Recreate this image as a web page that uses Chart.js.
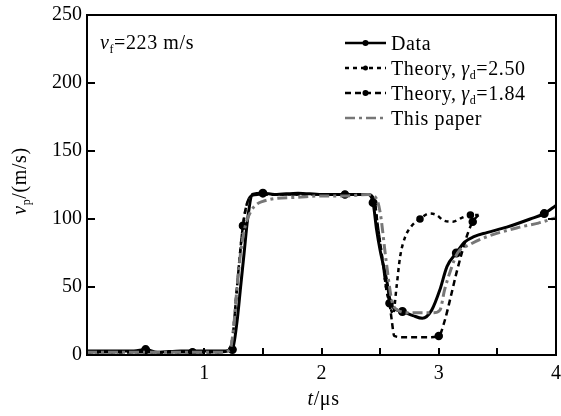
<!DOCTYPE html>
<html><head><meta charset="utf-8">
<script src="https://cdn.jsdelivr.net/npm/chart.js@4"></script>
<style>html,body{margin:0;padding:0;background:#fff}#wrap{width:561px;height:416px;position:relative}</style>
</head><body><div id="wrap"><canvas id="c" width="561" height="416"></canvas></div>
<script>
// ---- data ----
const dataT = [0, 0.2, 0.4, 0.5, 0.6, 0.8, 1.0, 1.1, 1.18, 1.24, 1.28, 1.31, 1.34, 1.37, 1.41, 1.5, 1.6, 1.8, 2.0, 2.2, 2.4, 2.44, 2.47, 2.5, 2.56, 2.58, 2.61, 2.69, 2.78, 2.86, 2.94, 3.01, 3.07, 3.15, 3.22, 3.3, 3.41, 3.58, 3.78, 3.9, 4.0];
const dataV = [3, 3, 3, 4, 2, 3, 3, 3, 3, 4, 25, 50, 75, 100, 118, 119, 118, 119, 118, 118, 118, 112, 92, 77, 53, 42, 35, 32, 29, 27, 33, 48, 65, 75, 83, 87, 90, 94, 100, 104, 110];

const theoryAT = [0, 0.3, 0.6, 0.9, 1.1, 1.2, 1.24, 1.27, 1.3, 1.33, 1.36, 1.4, 1.5, 1.7, 2.0, 2.2, 2.4, 2.45, 2.48, 2.52, 2.55, 2.58, 2.61, 2.64, 2.67, 2.71, 2.77, 2.84, 2.92, 2.98, 3.04, 3.12, 3.2, 3.27, 3.34];
const theoryAV = [2, 2, 2, 2, 2, 3, 12, 40, 70, 95, 110, 117, 118, 118, 118, 118, 118, 114, 95, 70, 50, 38, 30, 50, 72, 86, 95, 100, 104, 103, 99, 98, 101, 103, 103];

const theoryBT = [0, 0.3, 0.6, 0.9, 1.1, 1.2, 1.24, 1.27, 1.3, 1.33, 1.36, 1.4, 1.5, 1.7, 2.0, 2.2, 2.4, 2.45, 2.48, 2.52, 2.55, 2.58, 2.6, 2.62, 2.7, 2.8, 2.9, 3.0, 3.05, 3.1, 3.15, 3.2, 3.25, 3.29, 3.34];
const theoryBV = [2, 2, 2, 2, 2, 3, 12, 40, 70, 95, 110, 117, 118, 118, 118, 118, 118, 114, 95, 70, 50, 38, 25, 14, 13, 13, 13, 14, 25, 42, 60, 76, 90, 98, 103];

const paperT = [0, 0.5, 1.0, 1.15, 1.22, 1.25, 1.28, 1.31, 1.35, 1.4, 1.45, 1.5, 1.6, 1.8, 2.0, 2.2, 2.4, 2.46, 2.5, 2.55, 2.6, 2.65, 2.75, 2.85, 2.95, 3.01, 3.05, 3.1, 3.16, 3.26, 3.41, 3.69, 3.85, 4.0];
const paperV = [2, 2, 2, 2, 4, 20, 50, 75, 95, 106, 111, 113, 115, 116, 117, 117, 118, 116, 105, 70, 40, 33, 31, 31, 31, 33, 48, 62, 75, 81, 87, 94, 97, 101];

const seriesNames = ['Data', 'Theory, γ_d=2.50', 'Theory, γ_d=1.84', 'This paper'];
const xTickLabels = ['1', '2', '3', '4'];
const yTickValues = [0, 50, 100, 150, 200, 250];
const xMinorTicks = [0.5, 1, 1.5, 2, 2.5, 3, 3.5];
const yInnerTicks = [50, 100, 150, 200];
const annotationText = ['v', 'f', '=223 m/s'];
const xTitle = ['t', '/μs'];
const yTitle = ['v', 'p', '/(m/s)'];

const pts = (T, V) => T.map((t, i) => ({x: t, y: V[i]}));
const SERIF = '"Liberation Serif", "DejaVu Serif", serif';
const FS = 20;

const styles = [
  {color: '#000', width: 3, dash: [], marker: 3},
  {color: '#000', width: 2.5, dash: [4, 4], marker: 2.5},
  {color: '#000', width: 2.5, dash: [6, 4], marker: 3},
  {color: '#777', width: 3, dash: [10, 4, 3, 4], marker: 0}
];
const seriesPts = [pts(dataT, dataV), pts(theoryAT, theoryAV), pts(theoryBT, theoryBV), pts(paperT, paperV)];

const datasets = seriesPts.map((p, i) => ({
  label: seriesNames[i],
  data: p,
  borderColor: styles[i].color,
  backgroundColor: styles[i].color,
  borderWidth: styles[i].width,
  borderDash: styles[i].dash,
  cubicInterpolationMode: 'monotone',
  pointRadius: (ctx) => (styles[i].marker && ctx.dataIndex % 6 === 3) ? styles[i].marker : 0,
  pointHoverRadius: 0,
  order: 3 - i
}));

function drawRich(ctx, parts, x, y, size, italicFirst) {
  ctx.font = (italicFirst ? 'italic ' : '') + size + 'px ' + SERIF;
  ctx.fillText(parts[0], x, y); x += ctx.measureText(parts[0]).width;
  if (parts.length > 1) {
    ctx.font = Math.round(size * 0.6) + 'px ' + SERIF;
    ctx.fillText(parts[1], x, y + size * 0.22); x += ctx.measureText(parts[1]).width;
  }
  if (parts.length > 2) {
    ctx.font = size + 'px ' + SERIF;
    ctx.fillText(parts[2], x, y); x += ctx.measureText(parts[2]).width;
  }
  return x;
}

const decor = {
  id: 'decor',
  afterDraw(chart) {
    const ctx = chart.ctx, xs = chart.scales.x, ys = chart.scales.y, a = chart.chartArea;
    ctx.save();
    ctx.strokeStyle = '#000'; ctx.lineWidth = 2; ctx.setLineDash([]);
    ctx.strokeRect(a.left, a.top, a.right - a.left, a.bottom - a.top);
    ctx.beginPath();
    xMinorTicks.forEach(v => { const px = Math.round(xs.getPixelForValue(v)); ctx.moveTo(px, a.bottom); ctx.lineTo(px, a.bottom - 7); });
    yInnerTicks.forEach(v => { const py = Math.round(ys.getPixelForValue(v)); ctx.moveTo(a.left, py); ctx.lineTo(a.left + 8, py); ctx.moveTo(a.right, py); ctx.lineTo(a.right - 8, py); });
    ctx.stroke();

    ctx.fillStyle = '#000'; ctx.textBaseline = 'alphabetic'; ctx.textAlign = 'left';
    ctx.letterSpacing = '0.6px';
    drawRich(ctx, annotationText, 100, 49, FS, true);
    // legend
    const lx0 = 345, lx1 = 386, tx = 391;
    seriesNames.forEach((name, i) => {
      const cy = 43 + i * 25;
      const s = styles[i];
      ctx.strokeStyle = s.color; ctx.lineWidth = Math.min(s.width, 2.5); ctx.setLineDash(s.dash);
      ctx.beginPath(); ctx.moveTo(lx0, cy); ctx.lineTo(lx1, cy); ctx.stroke();
      ctx.setLineDash([]);
      if (s.marker) { ctx.fillStyle = s.color; ctx.beginPath(); ctx.arc((lx0 + lx1) / 2, cy, s.marker, 0, Math.PI * 2); ctx.fill(); }
      ctx.fillStyle = '#000';
      const m = name.match(/^(.*?)(γ)_(\w)(.*)$/);
      const base = cy + 7;
      ctx.font = FS + 'px ' + SERIF;
      if (m) {
        ctx.fillText(m[1], tx, base); let x = tx + ctx.measureText(m[1]).width - 1;
        drawRich(ctx, [m[2], m[3], m[4]], x, base, FS, true);
      } else {
        ctx.fillText(name, tx, base);
      }
    });
    // axis titles
    ctx.font = 'italic ' + FS + 'px ' + SERIF;
    let w = ctx.measureText(xTitle[0]).width; ctx.font = FS + 'px ' + SERIF; w += ctx.measureText(xTitle[1]).width;
    let x0 = (a.left + a.right) / 2 - w / 2 + 2;
    ctx.font = 'italic ' + FS + 'px ' + SERIF; ctx.fillText(xTitle[0], x0, 405);
    x0 += ctx.measureText(xTitle[0]).width; ctx.font = FS + 'px ' + SERIF; ctx.fillText(xTitle[1], x0, 405);

    ctx.save();
    ctx.translate(26, 181); ctx.rotate(-Math.PI / 2);
    ctx.font = 'italic ' + FS + 'px ' + SERIF; let tw = ctx.measureText(yTitle[0]).width;
    ctx.font = Math.round(FS * 0.6) + 'px ' + SERIF; tw += ctx.measureText(yTitle[1]).width;
    ctx.font = FS + 'px ' + SERIF; tw += ctx.measureText(yTitle[2]).width;
    drawRich(ctx, yTitle, -tw / 2, 0, FS, true);
    ctx.restore();
    ctx.restore();
  }
};

new Chart(document.getElementById('c'), {
  type: 'line',
  data: {datasets},
  options: {
    responsive: false, animation: false, devicePixelRatio: 1,
    layout: {padding: {left: 0, right: 5, top: 15, bottom: 0}},
    plugins: {legend: {display: false}, tooltip: {enabled: false}},
    scales: {
      x: {
        type: 'linear', min: 0, max: 4,
        afterFit: s => { s.height = 61; s.paddingLeft = 0; s.paddingRight = 0; },
        grid: {display: false, drawTicks: false}, border: {display: false},
        ticks: {stepSize: 1, padding: 7, color: '#000', font: {family: SERIF, size: FS},
          callback: v => (v >= 1 && Number.isInteger(v)) ? xTickLabels[v - 1] : ''}
      },
      y: {
        type: 'linear', min: 0, max: 250,
        afterFit: s => { s.width = 87; s.paddingTop = 0; s.paddingBottom = 0; },
        afterBuildTicks: s => { s.ticks = yTickValues.map(v => ({value: v})); },
        grid: {display: false, drawTicks: false}, border: {display: false},
        ticks: {padding: 5, color: '#000', font: {family: SERIF, size: FS}}
      }
    }
  },
  plugins: [decor]
});
</script></body></html>
